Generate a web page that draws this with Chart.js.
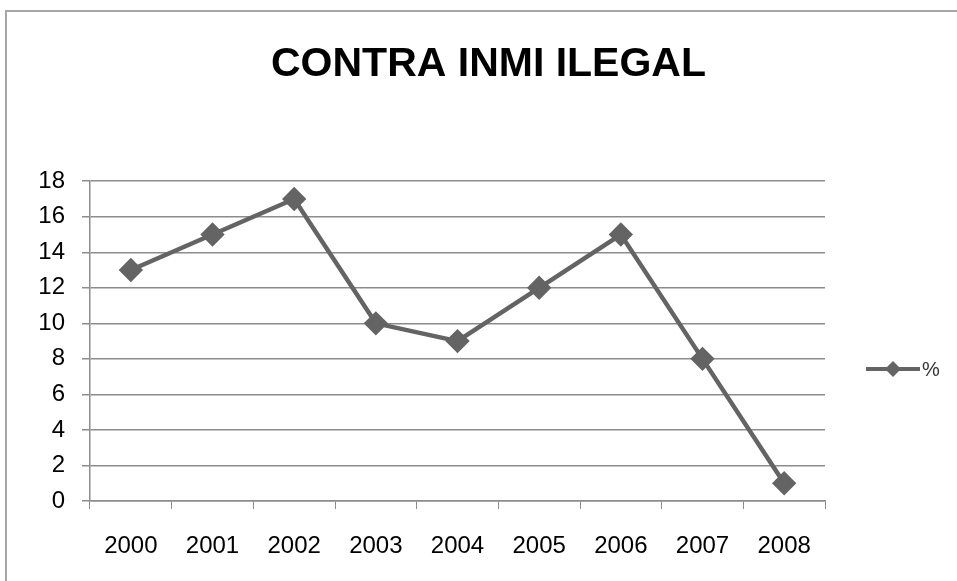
<!DOCTYPE html>
<html>
<head>
<meta charset="utf-8">
<script src="https://cdn.jsdelivr.net/npm/chart.js@4/dist/chart.umd.min.js"></script>
<style>
  html, body { margin: 0; padding: 0; background: #fff; }
  #wrap { width: 957px; height: 581px; position: relative; }
</style>
</head>
<body>
<div id="wrap"><canvas id="chart"></canvas></div>
<script>
const years = ['2000', '2001', '2002', '2003', '2004', '2005', '2006', '2007', '2008'];
const percent = [13, 15, 17, 10, 9, 12, 15, 8, 1];
const seriesLabel = '%';
const chartTitle = 'CONTRA INMI ILEGAL';

const lineColor = '#646464';
const gridColor = '#8c8c8c';

// outer frame + right-hand legend, drawn like the spreadsheet export
const frameAndLegend = {
  id: 'frameAndLegend',
  beforeDraw(chart) {
    const ctx = chart.ctx;
    ctx.save();
    ctx.strokeStyle = '#a6a6a6';
    ctx.lineWidth = 2;
    ctx.strokeRect(6, 11, 960, 600);
    ctx.restore();
  },
  afterDraw(chart) {
    const ctx = chart.ctx;
    const y = 369;
    ctx.save();
    ctx.strokeStyle = lineColor;
    ctx.fillStyle = lineColor;
    ctx.lineWidth = 4;
    ctx.beginPath();
    ctx.moveTo(866, y);
    ctx.lineTo(920, y);
    ctx.stroke();
    ctx.beginPath();
    ctx.moveTo(893, y - 8);
    ctx.lineTo(901, y);
    ctx.lineTo(893, y + 8);
    ctx.lineTo(885, y);
    ctx.closePath();
    ctx.fill();
    ctx.fillStyle = '#333';
    ctx.font = '20px "Liberation Sans"';
    ctx.textBaseline = 'middle';
    ctx.fillText(chart.data.datasets[0].label, 922, y + 1);
    ctx.restore();
  }
};

new Chart(document.getElementById('chart'), {
  type: 'line',
  data: {
    labels: years,
    datasets: [{
      label: seriesLabel,
      data: percent,
      borderColor: lineColor,
      backgroundColor: lineColor,
      borderWidth: 4.5,
      pointStyle: 'rectRot',
      pointRadius: 9,
      pointHoverRadius: 9,
      tension: 0,
    }],
  },
  options: {
    responsive: true,
    maintainAspectRatio: false,
    animation: false,
    layout: { padding: { left: 20, right: 0, top: 0, bottom: 0 } },
    plugins: {
      legend: { display: false },
      tooltip: { enabled: false },
      title: {
        display: true,
        text: chartTitle,
        color: '#000',
        font: { family: '"Liberation Sans Narrow", "Liberation Sans"', size: 41, weight: 'bold', lineHeight: 1.2 },
        padding: { top: 40, bottom: 92 },
      },
    },
    scales: {
      x: {
        offset: true,
        grid: {
          display: true,
          offset: true,
          drawOnChartArea: false,
          drawTicks: true,
          tickLength: 8,
          color: gridColor,
        },
        border: { display: true, color: gridColor, width: 1.5 },
        ticks: {
          color: '#000',
          padding: 23,
          font: { family: '"Liberation Sans"', size: 24 },
          maxRotation: 0,
        },
        afterFit(scale) { scale.height = 80; },
      },
      y: {
        min: 0,
        max: 18,
        ticks: {
          stepSize: 2,
          color: '#000',
          padding: 17,
          font: { family: '"Liberation Sans"', size: 24 },
        },
        grid: {
          color: gridColor,
          lineWidth: 1.5,
          tickLength: 8,
        },
        border: { display: true, color: gridColor, width: 1.5 },
        afterFit(scale) { scale.width = 70; },
      },
      // empty right-hand band that leaves room for the legend
      side: {
        type: 'linear',
        position: 'right',
        display: true,
        grid: { display: false },
        border: { display: false },
        ticks: { display: false },
        afterFit(scale) { scale.width = 132; },
      },
    },
  },
  plugins: [frameAndLegend],
});
</script>
</body>
</html>
